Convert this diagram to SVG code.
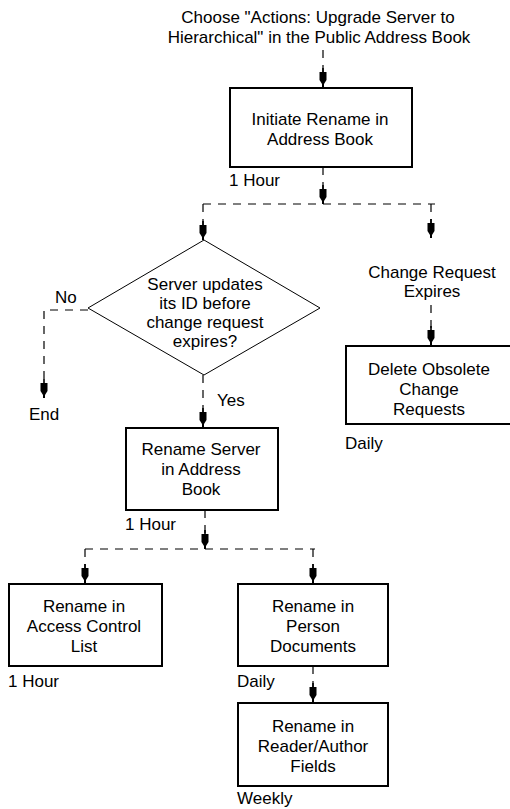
<svg xmlns="http://www.w3.org/2000/svg" width="510" height="809" viewBox="0 0 510 809">
<style>
text{font-family:"Liberation Sans",Arial,sans-serif;font-size:17px;fill:#000}
.c{text-anchor:middle}
.box{fill:#fff;stroke:#000;stroke-width:2}
.dia{fill:#fff;stroke:#000;stroke-width:1}
.dash{fill:none;stroke:#000;stroke-width:1.2;stroke-dasharray:8 7}
.arr{fill:none;stroke:#000;stroke-width:1.2;stroke-dasharray:8 7;marker-end:url(#ah)}
</style>
<defs>
<marker id="ah" markerUnits="userSpaceOnUse" markerWidth="20" markerHeight="8" viewBox="-20 -4 20 8" refX="0" refY="0" orient="auto" overflow="visible">
<polygon points="-19,-0.8 -15,-0.8 -15,-3.5 -7,-3.5 -3,-1 0,-1 0,1 -3,1 -7,3.5 -15,3.5 -15,0.8 -19,0.8" fill="#000"/>
</marker>
</defs>
<rect width="510" height="809" fill="#fff"/>
<g id="start">
<text class="c" x="318" y="23">Choose "Actions: Upgrade Server to</text>
<text class="c" x="319" y="43">Hierarchical" in the Public Address Book</text>
</g>
<g id="connectors">
<path class="arr" d="M323,50 V87"/>
<path class="arr" d="M323,167 V204"/>
<path class="dash" d="M203,204 H435"/>
<path class="arr" d="M203,204 V240"/>
<path class="arr" d="M431,204 V238"/>
<path class="arr" d="M431,305 V345"/>
<path class="arr" d="M88,310 H44 V398"/>
<path class="arr" d="M203,375 V427"/>
<path class="arr" d="M205,510 V549"/>
<path class="dash" d="M85,549 H315"/>
<path class="arr" d="M85,549 V583"/>
<path class="arr" d="M313,549 V583"/>
<path class="arr" d="M313,666 V702"/>
</g>
<g id="initiate">
<rect class="box" x="230" y="88" width="182" height="79"/>
<text class="c" x="320" y="125">Initiate Rename in</text>
<text class="c" x="320" y="145">Address Book</text>
<text x="229" y="186">1 Hour</text>
</g>
<g id="decision">
<polygon class="dia" points="204,240 320,308 204,375 88,308"/>
<text class="c" x="205" y="290">Server updates</text>
<text class="c" x="205" y="309">its ID before</text>
<text class="c" x="205" y="328">change request</text>
<text class="c" x="205" y="347">expires?</text>
<text x="55" y="303">No</text>
<text x="217" y="406">Yes</text>
</g>
<g id="end">
<text x="29" y="420">End</text>
</g>
<g id="expires">
<text class="c" x="432" y="278">Change Request</text>
<text class="c" x="432" y="297">Expires</text>
</g>
<g id="delete">
<rect class="box" x="346" y="346" width="170" height="78"/>
<text class="c" x="429" y="375">Delete Obsolete</text>
<text class="c" x="429" y="395">Change</text>
<text class="c" x="429" y="415">Requests</text>
<text x="345" y="449">Daily</text>
</g>
<g id="renameServer">
<rect class="box" x="126" y="428" width="152" height="82"/>
<text class="c" x="201" y="455">Rename Server</text>
<text class="c" x="201" y="475">in Address</text>
<text class="c" x="201" y="495">Book</text>
<text x="125" y="530">1 Hour</text>
</g>
<g id="acl">
<rect class="box" x="9" y="584" width="153" height="82"/>
<text class="c" x="84" y="612">Rename in</text>
<text class="c" x="84" y="632">Access Control</text>
<text class="c" x="84" y="652">List</text>
<text x="8" y="687">1 Hour</text>
</g>
<g id="person">
<rect class="box" x="238" y="584" width="150" height="82"/>
<text class="c" x="313" y="612">Rename in</text>
<text class="c" x="313" y="632">Person</text>
<text class="c" x="313" y="652">Documents</text>
<text x="237" y="687">Daily</text>
</g>
<g id="reader">
<rect class="box" x="238" y="703" width="150" height="83"/>
<text class="c" x="313" y="732">Rename in</text>
<text class="c" x="313" y="752">Reader/Author</text>
<text class="c" x="313" y="772">Fields</text>
<text x="237" y="804">Weekly</text>
</g>
</svg>
